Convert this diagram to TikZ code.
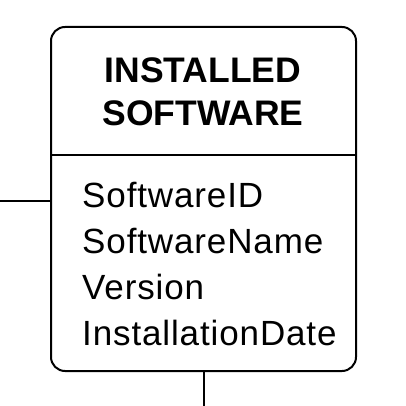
\documentclass[tikz,border=0pt]{standalone}
\usepackage{fontspec}
\setmainfont{Liberation Sans}
\newfontfamily\attrfont[LetterSpace=2.5]{Liberation Sans}
\usepackage{tikz}
\usetikzlibrary{positioning, calc}

\tikzset{
  entity/.style={draw=black, line width=2pt, rounded corners=14pt,
                 minimum width=305pt, minimum height=344pt, inner sep=0pt},
  title/.style={font=\fontsize{35.5}{43}\selectfont\bfseries,
                align=center, inner sep=0pt},
  attrs/.style={font=\fontsize{35}{46}\selectfont\attrfont,
                align=left, inner sep=0pt},
  link/.style={draw=black, line width=2pt}
}

\begin{document}
\begin{tikzpicture}[x=1pt, y=-1pt]
  \useasboundingbox (0,0) rectangle (406,406);
  % Entity box
  \node[entity] (software) at (203.5,199) {};
  \node[title, anchor=north] (softtitle) at (203,58) {INSTALLED\\SOFTWARE};
  \draw[link] (software.west |- 0,155) -- (software.east |- 0,155);
  % Attribute list
  \node[attrs, anchor=north west] (softattrs) at (82,181.5)
    {SoftwareID\\SoftwareName\\Version\\InstallationDate};
  % Relationship stubs
  \coordinate (leftend) at (0,201);
  \coordinate (bottomend) at (204,406);
  \draw[link] (leftend) -- (leftend -| software.west);
  \draw[link] (software.south -| bottomend) -- (bottomend);
\end{tikzpicture}
\end{document}
